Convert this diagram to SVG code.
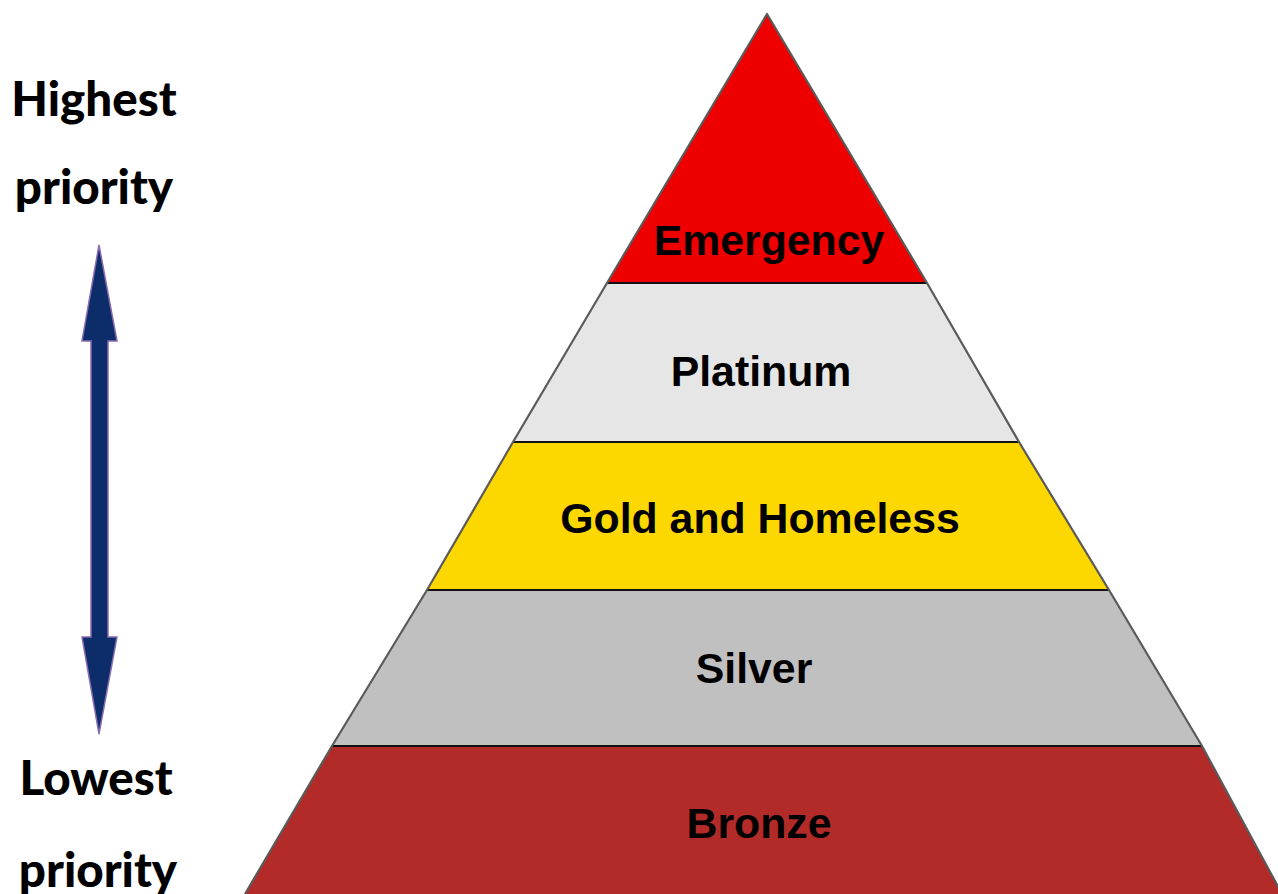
<svg xmlns="http://www.w3.org/2000/svg" width="1278" height="894" viewBox="0 0 1278 894">
<style>
.lvl{font-family:"Liberation Sans",Arial,sans-serif;font-weight:bold;font-size:42.8px;fill:#000;text-anchor:middle}
.side{font-family:Lato,"Open Sans",sans-serif;font-weight:900;font-size:47.5px;fill:#000;text-anchor:middle}
.sep{stroke:#111;stroke-width:2}
.edge{fill:none;stroke:#5a5a5a;stroke-width:2.2;stroke-linejoin:round}
</style>
<rect width="1278" height="894" fill="#fff"/>
<g id="emergency">
<polygon points="767,14 927,283 607,283" fill="#EE0000"/>
<text class="lvl" x="769" y="255">Emergency</text>
</g>
<g id="platinum">
<polygon points="607,283 927,283 1019,442 513,442" fill="#E6E6E6"/>
<text class="lvl" x="761" y="386">Platinum</text>
</g>
<g id="gold">
<polygon points="513,442 1019,442 1109,590 427,590" fill="#FCD700"/>
<text class="lvl" x="760" y="533">Gold and Homeless</text>
</g>
<g id="silver">
<polygon points="427,590 1109,590 1202,746 332,746" fill="#C0C0C0"/>
<text class="lvl" x="754" y="683">Silver</text>
</g>
<g id="bronze">
<polygon points="332,746 1202,746 1282,894 245,894" fill="#B22B29"/>
<text class="lvl" x="759" y="838">Bronze</text>
</g>
<g id="connectors">
<line class="sep" x1="607" y1="283" x2="927" y2="283"/>
<line class="sep" x1="513" y1="442" x2="1019" y2="442"/>
<line class="sep" x1="427" y1="590" x2="1109" y2="590"/>
<line class="sep" x1="332" y1="746" x2="1202" y2="746"/>
<polyline class="edge" points="245,894 332,746 427,590 513,442 607,283 767,14 927,283 1019,442 1109,590 1202,746 1282,894"/>
</g>
<g id="priority-arrow">
<polygon points="99,245 117,341 108,341 108,637 117,637 99,734 82,637 91,637 91,341 82,341" fill="#0C2D69" stroke="#8A6BB0" stroke-width="1.5" stroke-linejoin="miter"/>
</g>
<g id="labels">
<text class="side" x="94" y="116">Highest</text>
<text class="side" x="94" y="204">priority</text>
<text class="side" x="96" y="795">Lowest</text>
<text class="side" x="98" y="887">priority</text>
</g>
</svg>
